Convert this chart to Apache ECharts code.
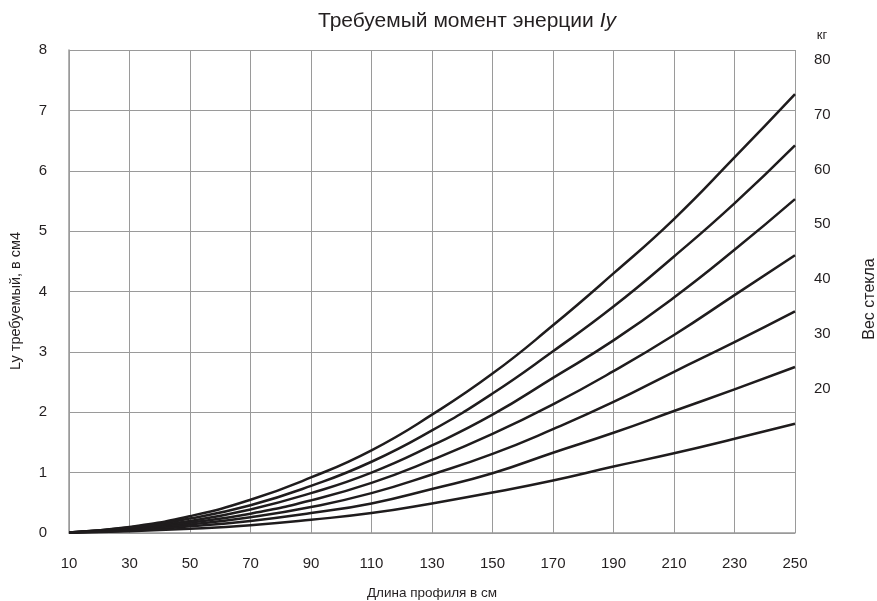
<!DOCTYPE html>
<html>
<head>
<meta charset="utf-8">
<script src="https://cdn.jsdelivr.net/npm/echarts@6/dist/echarts.min.js"></script>
<style>
  html, body { margin: 0; padding: 0; background: #ffffff; }
  #chart { width: 877px; height: 601px; }
</style>
</head>
<body>
<div id="chart"></div>
<script>
// Profile length, cm (x axis)
const lengths = [10, 30, 50, 70, 90, 110, 130, 150, 170, 190, 210, 230, 250];

// Required moment of inertia Iy, cm4, one curve per glass weight
const iy80 = [0.01, 0.10, 0.28, 0.55, 0.92, 1.37, 1.96, 2.64, 3.44, 4.30, 5.20, 6.22, 7.27];
const iy70 = [0.01, 0.09, 0.24, 0.46, 0.78, 1.18, 1.70, 2.31, 3.01, 3.75, 4.58, 5.46, 6.42];
const iy60 = [0.01, 0.08, 0.20, 0.39, 0.66, 1.00, 1.45, 1.96, 2.57, 3.19, 3.90, 4.69, 5.53];
const iy50 = [0.01, 0.06, 0.17, 0.32, 0.54, 0.83, 1.21, 1.64, 2.13, 2.68, 3.28, 3.94, 4.60];
const iy40 = [0.01, 0.05, 0.14, 0.26, 0.43, 0.66, 0.97, 1.31, 1.72, 2.17, 2.67, 3.16, 3.67];
const iy30 = [0.01, 0.04, 0.11, 0.20, 0.33, 0.49, 0.73, 0.99, 1.33, 1.66, 2.02, 2.38, 2.75];
const iy20 = [0.01, 0.03, 0.07, 0.13, 0.22, 0.33, 0.49, 0.67, 0.87, 1.10, 1.32, 1.56, 1.81];

// Glass weight labels on the right scale, kg
const weightLabels = [20, 30, 40, 50, 60, 70, 80];

const seriesList = [
  { name: '80 кг', values: iy80 },
  { name: '70 кг', values: iy70 },
  { name: '60 кг', values: iy60 },
  { name: '50 кг', values: iy50 },
  { name: '40 кг', values: iy40 },
  { name: '30 кг', values: iy30 },
  { name: '20 кг', values: iy20 }
];

const FONT = '"Liberation Sans", Arial, sans-serif';
const TEXT = '#231f20';
const GRID = '#9a9a9a';

const chart = echarts.init(document.getElementById('chart'), null, { renderer: 'canvas' });

chart.setOption({
  animation: false,
  backgroundColor: '#ffffff',
  textStyle: { fontFamily: FONT, color: TEXT },
  title: {
    text: '{n|Требуемый момент энерции }{i|Iy}',
    left: 462,
    top: 6,
    textAlign: 'center',
    textStyle: {
      fontWeight: 'normal',
      rich: {
        n: { fontFamily: FONT, fontSize: 21, fontWeight: 'normal', color: TEXT },
        i: { fontFamily: FONT, fontSize: 21, fontWeight: 'normal', color: TEXT, fontStyle: 'italic' }
      }
    }
  },
  grid: { left: 69, right: 82, top: 50, bottom: 68, containLabel: false, outerBoundsMode: 'none' },
  xAxis: {
    type: 'value',
    min: 10,
    max: 250,
    interval: 20,
    name: 'Длина профиля в см',
    nameLocation: 'middle',
    nameGap: 53,
    nameTextStyle: { fontFamily: FONT, fontSize: 13.5, color: TEXT },
    axisLine: { show: true, lineStyle: { color: GRID, width: 1.5 } },
    axisTick: { show: false },
    axisLabel: { fontFamily: FONT, fontSize: 15, color: TEXT, margin: 23 },
    splitLine: { show: true, lineStyle: { color: GRID, width: 1 } }
  },
  yAxis: [
    {
      type: 'value',
      min: 0,
      max: 8,
      interval: 1,
      axisLine: { show: true, lineStyle: { color: GRID, width: 1.5 } },
      axisTick: { show: false },
      axisLabel: { fontFamily: FONT, fontSize: 15, color: TEXT, margin: 22 },
      splitLine: { show: true, lineStyle: { color: GRID, width: 1 } }
    },
    {
      type: 'value',
      position: 'right',
      min: -6.24,
      max: 81.75,
      axisLine: { show: false },
      axisTick: { show: false },
      splitLine: { show: false },
      axisLabel: {
        fontFamily: FONT, fontSize: 15, color: TEXT, margin: 19,
        customValues: weightLabels,
        showMinLabel: true, showMaxLabel: true
      }
    }
  ],
  graphic: [
    {
      type: 'text',
      x: 16, y: 301,
      rotation: Math.PI / 2,
      style: { text: 'Ly требуемый, в см4', font: '14.5px ' + FONT, fill: TEXT, align: 'center', verticalAlign: 'middle' }
    },
    {
      type: 'text',
      x: 822, y: 35,
      style: { text: 'кг', font: '13px ' + FONT, fill: TEXT, align: 'center', verticalAlign: 'middle' }
    },
    {
      type: 'text',
      x: 870, y: 299,
      rotation: Math.PI / 2,
      style: { text: 'Вес стекла', font: '16px ' + FONT, fill: TEXT, align: 'center', verticalAlign: 'middle' }
    }
  ],
  series: seriesList.map(s => ({
    name: s.name,
    type: 'line',
    yAxisIndex: 0,
    smooth: true,
    symbol: 'none',
    lineStyle: { color: '#1f1c1d', width: 2.5 },
    data: lengths.map((x, i) => [x, s.values[i]])
  }))
});
</script>
</body>
</html>
